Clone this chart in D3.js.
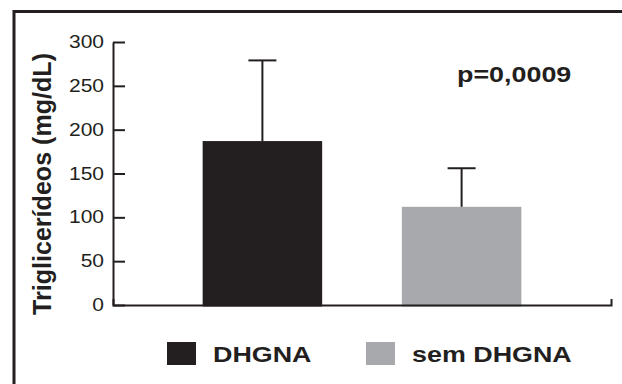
<!DOCTYPE html>
<html>
<head>
<meta charset="utf-8">
<script src="https://cdn.jsdelivr.net/npm/d3@7"></script>
<style>
  body { margin: 0; background: #fff; }
  svg { display: block; }
  text { font-family: "Liberation Sans", Arial, sans-serif; fill: #231f20; }
</style>
</head>
<body>
<div class="chart"></div>
<script>
'use strict';

var groups = ['DHGNA', 'sem DHGNA'],
    means = [187, 112],
    sds = [92, 44],
    colors = ['#231f20', '#a7a9ac'],
    yTicks = [0, 50, 100, 150, 200, 250, 300],
    yLabel = 'Triglicerídeos (mg/dL)',
    pLabel = 'p=0,0009';

var width = 622,
    height = 384,
    ink = '#231f20',
    stretch = 1.25;

var svg = d3.select('.chart').append('svg')
  .attr('width', width)
  .attr('height', height);

// outer frame, runs off the right and bottom edges
svg.append('rect')
  .attr('x', 14).attr('y', 11.5)
  .attr('width', 700).attr('height', 500)
  .attr('fill', 'none')
  .attr('stroke', ink)
  .attr('stroke-width', 3);

var y = d3.scaleLinear().domain([0, 300]).range([305, 42]);
var x = d3.scaleBand().domain(groups).range([113, 611])
  .paddingInner(0.4).paddingOuter(0.45);

// bars
svg.append('g').selectAll('rect').data(groups).enter().append('rect')
  .attr('x', function (d) { return x(d); })
  .attr('width', x.bandwidth())
  .attr('y', function (d, i) { return y(means[i]); })
  .attr('height', function (d, i) { return y(0) - y(means[i]) + 1.5; })
  .attr('fill', function (d, i) { return colors[i]; });

// error bars (upper only)
var err = svg.append('g').attr('stroke', ink).attr('stroke-width', 2).attr('fill', 'none');
groups.forEach(function (g, i) {
  var cx = x(g) + x.bandwidth() / 2;
  err.append('line')
    .attr('x1', cx).attr('x2', cx)
    .attr('y1', y(means[i])).attr('y2', y(means[i] + sds[i]));
  err.append('line')
    .attr('x1', cx - 14).attr('x2', cx + 14)
    .attr('y1', y(means[i] + sds[i])).attr('y2', y(means[i] + sds[i]));
});

// x baseline with small end tick
var xAxis = svg.append('g')
  .attr('transform', 'translate(0,' + y(0) + ')')
  .call(d3.axisBottom(x).tickSizeInner(0).tickSizeOuter(-6).tickFormat(''));
xAxis.select('.domain').attr('stroke', ink).attr('stroke-width', 2);
xAxis.selectAll('.tick').remove();

// y axis, ticks pointing inward
var yAxis = svg.append('g')
  .attr('transform', 'translate(113,0)')
  .call(d3.axisLeft(y).tickValues(yTicks).tickSizeInner(-12).tickSizeOuter(0).tickPadding(9));
yAxis.select('.domain').attr('stroke', ink).attr('stroke-width', 2);
yAxis.selectAll('.tick line').attr('stroke', ink).attr('stroke-width', 2);
yAxis.selectAll('.tick text')
  .attr('font-family', '"Liberation Sans", Arial, sans-serif')
  .attr('font-size', 17.5)
  .attr('fill', ink)
  .attr('transform', function () {
    var tx = +d3.select(this).attr('x');
    d3.select(this).attr('x', 0);
    return 'translate(' + tx + ',0) scale(' + 1.2 + ',1)';
  });

// axis title
svg.append('text')
  .attr('transform', 'translate(51,184) scale(1.2,1) rotate(-90)')
  .attr('text-anchor', 'middle')
  .attr('font-size', 22)
  .attr('font-weight', 'bold')
  .attr('textLength', 262)
  .attr('lengthAdjust', 'spacingAndGlyphs')
  .text(yLabel);

// p value
svg.append('text')
  .attr('transform', 'translate(457,81.5) scale(' + stretch + ',1)')
  .attr('font-size', 21.5)
  .attr('font-weight', 'bold')
  .text(pLabel);

// legend
var legendX = [167, 366];
var legend = svg.append('g').selectAll('g').data(groups).enter().append('g')
  .attr('transform', function (d, i) { return 'translate(' + legendX[i] + ',342)'; });
legend.append('rect')
  .attr('width', 29).attr('height', 23)
  .attr('fill', function (d, i) { return colors[i]; });
legend.append('text')
  .attr('transform', 'translate(46,19.5) scale(' + stretch + ',1)')
  .attr('font-size', 21.5)
  .attr('font-weight', 'bold')
  .text(function (d) { return d; });
</script>
</body>
</html>
